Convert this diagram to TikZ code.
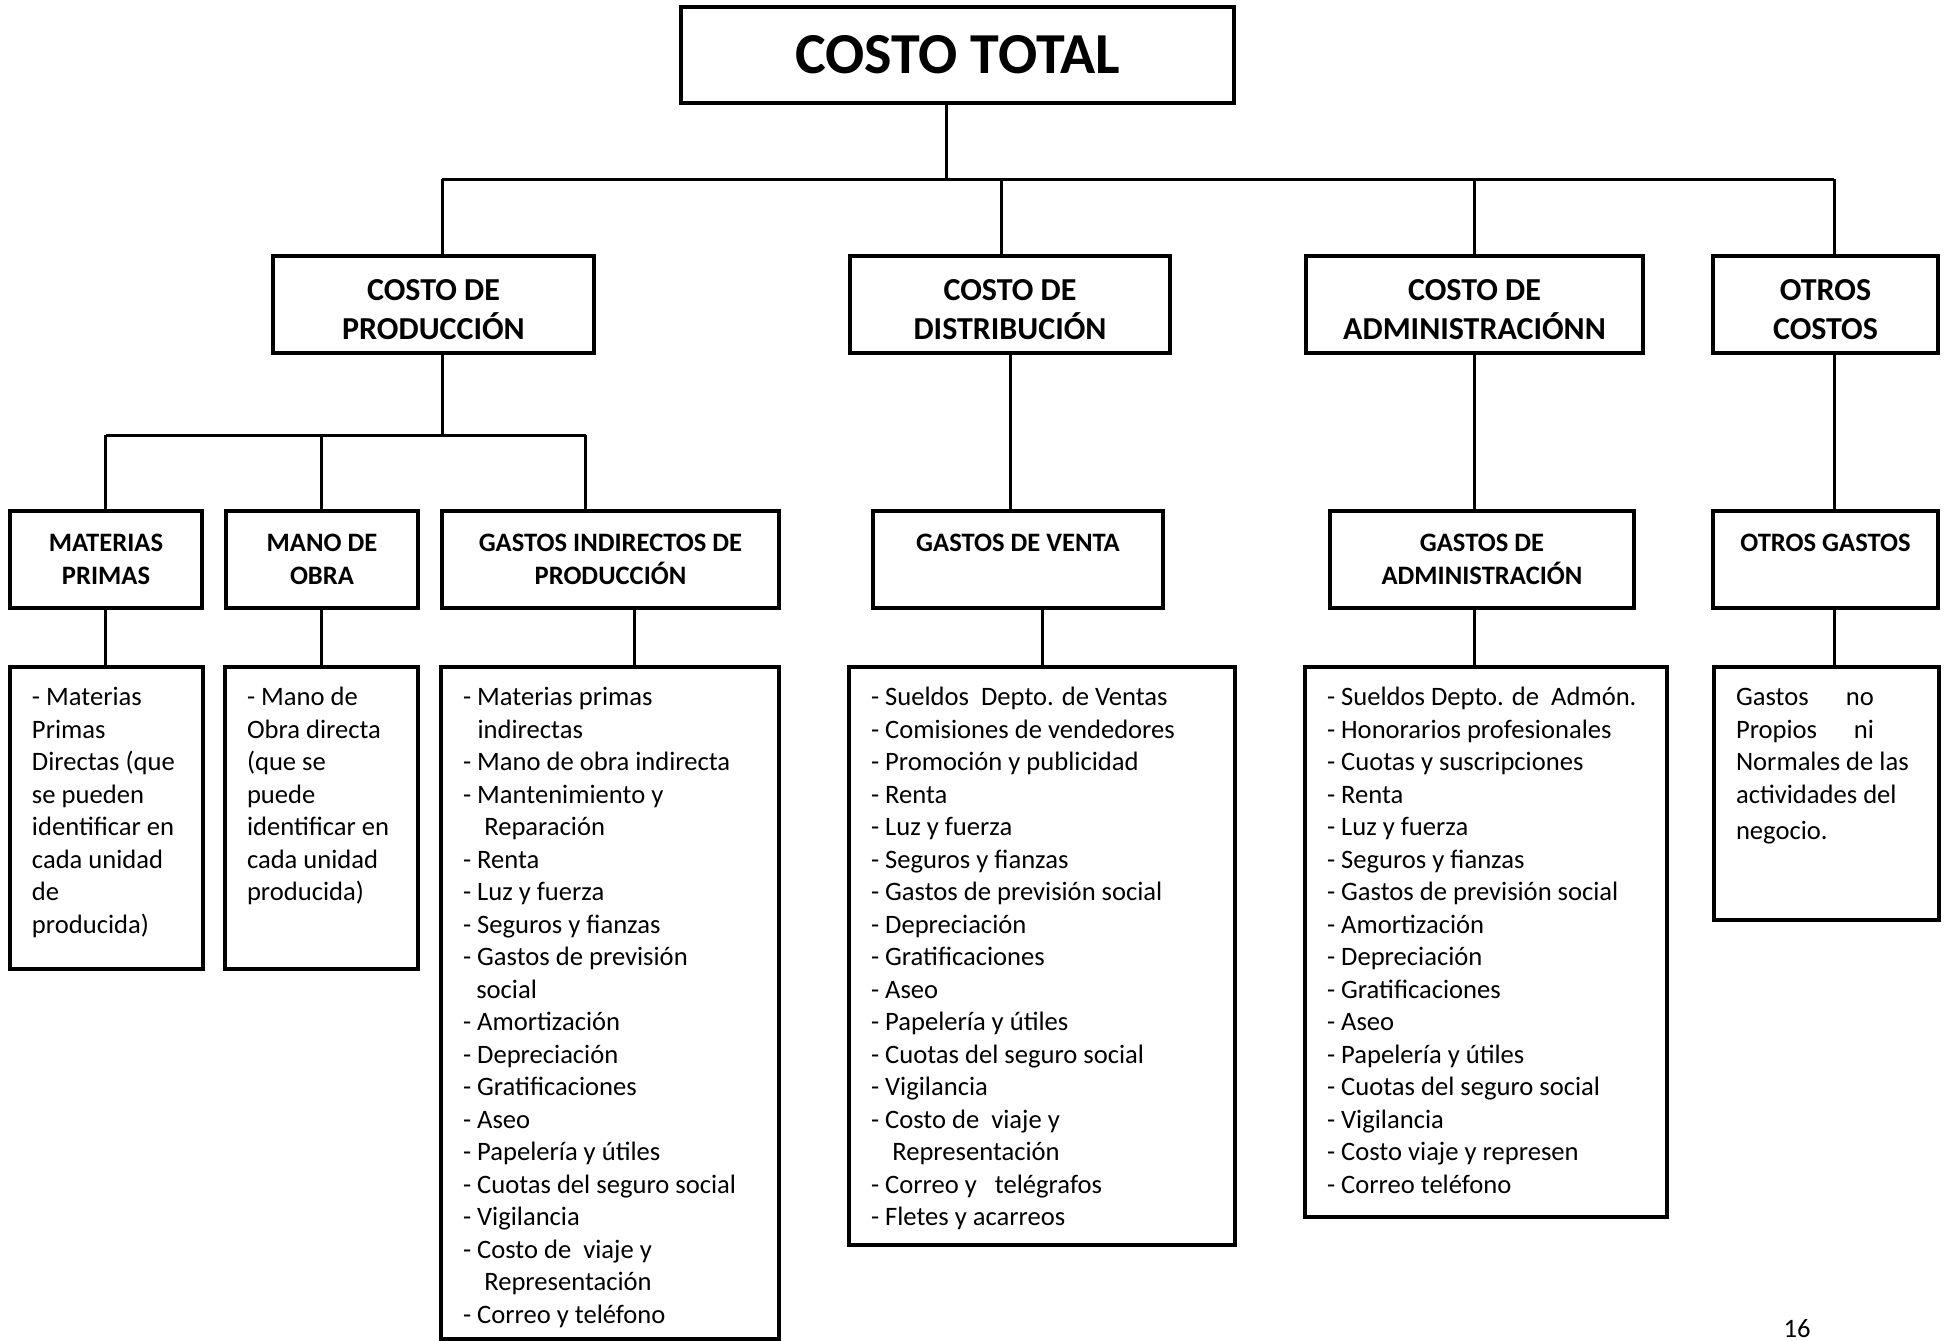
\documentclass[tikz,border=0pt]{standalone}
\usepackage{fontspec}
\setmainfont{Carlito}

\tikzset{every picture/.style={line width=1.5pt}}
\tikzset{
  cajatotal/.style={draw, line width=2pt, inner sep=0pt, minimum width=276.5pt, minimum height=48pt, font=\fontsize{29}{35}\selectfont\bfseries},
  cajados/.style={draw, line width=2pt, inner sep=0pt, minimum height=48.5pt, align=center, font=\fontsize{16}{19.5}\selectfont\bfseries},
  cajatres/.style={draw, line width=2pt, inner sep=0pt, minimum height=48.5pt, align=center, font=\fontsize{13.3}{16.5}\selectfont\bfseries},
  lista/.style={draw, line width=2pt, anchor=north, inner xsep=11pt, inner ysep=8pt, font=\fontsize{13.3}{16.25}\selectfont},
  linea/.style={line width=1.5pt}
}

\begin{document}
\begin{tikzpicture}[x=0.5pt,y=0.5pt,yscale=-1,xscale=1]
\useasboundingbox (0,0) rectangle (1945,1340);

%Shape: Rectangle [id:total]
\node[cajatotal] (total) at (957.5,54.5) {COSTO TOTAL};

%Shape: Rectangle [id:costos]
\node[cajados, minimum width=160.5pt] (prod) at (433.5,304.5) {\rule{0pt}{16pt}COSTO DE\\PRODUCCIÓN};
\node[cajados, minimum width=160pt] (dist) at (1010,304.5) {\rule{0pt}{16pt}COSTO DE\\DISTRIBUCIÓN};
\node[cajados, minimum width=168.5pt] (adm) at (1474.5,304.5) {\rule{0pt}{16pt}COSTO DE\\ADMINISTRACIÓNN};
\node[cajados, minimum width=112.5pt] (otc) at (1825.5,304.5) {\rule{0pt}{16pt}OTROS\\COSTOS};

%Shape: Rectangle [id:gastos]
\node[cajatres, minimum width=96pt] (mp) at (106,559.5) {MATERIAS\\PRIMAS};
\node[cajatres, minimum width=96pt] (mo) at (322,559.5) {MANO DE\\OBRA};
\node[cajatres, minimum width=168.5pt] (gi) at (610.5,559.5) {GASTOS INDIRECTOS DE\\PRODUCCIÓN};
\node[cajatres, minimum width=145pt] (gv) at (1018,559.5) {GASTOS DE VENTA\\ \phantom{A}};
\node[cajatres, minimum width=152pt] (ga) at (1482,559.5) {GASTOS DE\\ADMINISTRACIÓN};
\node[cajatres, minimum width=112.5pt] (og) at (1825.5,559.5) {OTROS GASTOS\\ \phantom{A}};

% Text Node [id:listas]
\node[lista] (mpl) at (106.5,665) {\parbox[t][135pt][t]{74.5pt}{\raggedright\strut
- Materias\\ Primas\\ Directas (que\\ se pueden\\ identificar en\\ cada unidad\\ de\\ producida)}};
\node[lista] (mol) at (321.5,665) {\parbox[t][135pt][t]{74.5pt}{\raggedright\strut
- Mano de\\ Obra directa\\ (que se\\ puede\\ identificar en\\ cada unidad\\ producida)}};
\node[lista] (gil) at (610,665) {\parbox[t][320pt][t]{147pt}{\raggedright\strut
- Materias primas\\ \hspace*{0.55em}indirectas\\
- Mano de obra indirecta\\
- Mantenimiento y\\ \hspace*{0.8em}Reparación\\
- Renta\\
- Luz y fuerza\\
- Seguros y fianzas\\
- Gastos de previsión\\ \hspace*{0.5em}social\\
- Amortización\\
- Depreciación\\
- Gratificaciones\\
- Aseo\\
- Papelería y útiles\\
- Cuotas del seguro social\\
- Vigilancia\\
- Costo de~ viaje y\\ \hspace*{0.8em}Representación\\
- Correo y teléfono}};
\node[lista] (gvl) at (1042,665) {\parbox[t][273pt][t]{171pt}{\raggedright\strut
- Sueldos~ Depto. de Ventas\\
- Comisiones de vendedores\\
- Promoción y publicidad\\
- Renta\\
- Luz y fuerza\\
- Seguros y fianzas\\
- Gastos de previsión social\\
- Depreciación\\
- Gratificaciones\\
- Aseo\\
- Papelería y útiles\\
- Cuotas del seguro social\\
- Vigilancia\\
- Costo de~ viaje y\\ \hspace*{0.8em}Representación\\
- Correo y~~ telégrafos\\
- Fletes y acarreos}};
\node[lista] (gal) at (1486,665) {\parbox[t][259pt][t]{159pt}{\raggedright\strut
- Sueldos Depto. de~ Admón.\\
- Honorarios profesionales\\
- Cuotas y suscripciones\\
- Renta\\
- Luz y fuerza\\
- Seguros y fianzas\\
- Gastos de previsión social\\
- Amortización\\
- Depreciación\\
- Gratificaciones\\
- Aseo\\
- Papelería y útiles\\
- Cuotas del seguro social\\
- Vigilancia\\
- Costo viaje y represen\\
- Correo teléfono}};
\node[lista] (otl) at (1826.5,665) {\parbox[t][110.5pt][t]{90.5pt}{\raggedright\strut
\makebox[69pt][l]{Gastos\hfill no}\\ \makebox[69pt][l]{Propios\hfill ni}\\ Normales de las\\ actividades del\\[2pt] negocio.}};

% Text Node
\node[anchor=base, font=\fontsize{13.3}{16}\selectfont] (pagina) at (1797,1337) {16};

%Straight Lines
\coordinate (t0) at (946.5,179);
\coordinate (t1) at (442,179);
\coordinate (t2) at (1001,179);
\coordinate (t3) at (1474,179);
\coordinate (t4) at (1834,179);
\coordinate (p0) at (442,435);
\coordinate (p1) at (105.5,435);
\coordinate (p2) at (321,435);
\coordinate (p3) at (585.5,435);

\draw[linea] (t0 |- total.south) -- (t0);
\draw[linea] (t1) -- (t4);
\foreach \c/\n in {t1/prod,t2/dist,t3/adm,t4/otc}
  \draw[linea] (\c) -- (\c |- \n.north);

\draw[linea] (p0 |- prod.south) -- (p0);
\draw[linea] (p1) -- (p3);
\foreach \c/\n in {p1/mp,p2/mo,p3/gi}
  \draw[linea] (\c) -- (\c |- \n.north);

\draw[linea] (dist.south) -- (dist.south |- gv.north);
\draw[linea] (adm.south) -- (adm.south |- ga.north);
\draw[linea] (t4 |- otc.south) -- (t4 |- og.north);

\foreach \x/\a/\b in {105.5/mp/mpl,321/mo/mol,634/gi/gil,1042/gv/gvl,1474/ga/gal,1834/og/otl}
  \draw[linea] (\a.south -| \x,0) -- (\b.north -| \x,0);

\end{tikzpicture}
\end{document}
